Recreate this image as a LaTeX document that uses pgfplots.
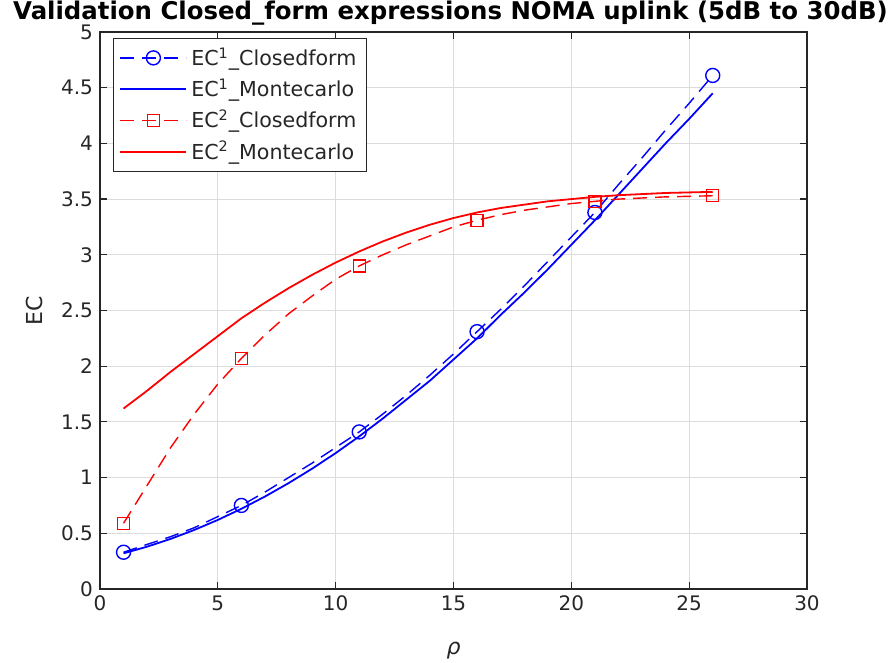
\documentclass[border=0pt]{standalone}
\usepackage{fontspec}
\setmainfont{DejaVu Sans}
\usepackage{pgfplots}
\pgfplotsset{compat=1.18}
\usetikzlibrary{calc}
\definecolor{axgray}{HTML}{262626}
\definecolor{gridgray}{HTML}{DCDCDC}

\begin{document}
\begin{tikzpicture}
\begin{axis}[
	name=plot,
	scale only axis, width=353.5pt, height=278.5pt,
	xmin=0, xmax=30, ymin=0, ymax=5,
	xtick={0,5,...,30}, ytick={0,0.5,...,5},
	grid=major,
	major grid style={gridgray, line width=0.5pt},
	axis line style={axgray, line width=0.6pt},
	tick style={axgray, line width=0.6pt},
	tick align=inside, major tick length=3.5pt,
	/pgf/number format/assume math mode=true,
	tick label style={font=\fontsize{10}{12}\selectfont, text=axgray},
	every axis title shift=0pt,
	title={\bfseries Validation Closed\_form expressions NOMA uplink (5dB to 30dB)},
	title style={at={(0.5,1)}, anchor=base, yshift=6pt, xshift=-1.5pt, font=\fontsize{12.2}{14}\selectfont},
	xlabel={\textit{ρ}},
	xlabel style={at={(axis description cs:0.5,-0.11)}, anchor=center, font=\fontsize{11}{13}\selectfont, text=axgray},
	ylabel={EC},
	ylabel style={at={(axis description cs:-0.092,0.5)}, anchor=center, font=\fontsize{11}{13}\selectfont, text=axgray},
	legend style={at={(axis description cs:0,1)}, anchor=north west, xshift=6.5pt, yshift=-3pt,
		draw=axgray, line width=0.5pt, font=\fontsize{10.3}{12}\selectfont, text=axgray,
		row sep=1.2pt, inner xsep=3pt, inner ysep=2.5pt},
	legend cell align=left,
	legend image code/.code={\draw[#1, mark repeat=2, mark phase=2] plot coordinates {(0pt,0pt) (16.5pt,0pt) (33pt,0pt)};},
]
\addplot[blue, line width=0.7pt, dash pattern=on 7pt off 4pt, mark=o, mark size=3.5pt, mark options={solid}, mark repeat=5, mark phase=1] coordinates {
	(1,0.33) (2,0.40) (3,0.47) (4,0.55) (5,0.65) (6,0.75) (7,0.87) (8,1.00) (9,1.13) (10,1.27)
	(11,1.41) (12,1.57) (13,1.74) (14,1.92) (15,2.11) (16,2.31) (17,2.51) (18,2.72) (19,2.94) (20,3.16)
	(21,3.38) (22,3.63) (23,3.87) (24,4.12) (25,4.36) (26,4.61)
};
\addlegendentry{EC\textsuperscript{1}\_Closedform}
\addplot[blue, line width=0.9pt] coordinates {
	(1,0.32) (2,0.38) (3,0.45) (4,0.53) (5,0.62) (6,0.72) (7,0.83) (8,0.95) (9,1.08) (10,1.22)
	(11,1.37) (12,1.53) (13,1.70) (14,1.87) (15,2.06) (16,2.25) (17,2.46) (18,2.66) (19,2.87) (20,3.09)
	(21,3.31) (22,3.54) (23,3.77) (24,4.00) (25,4.22) (26,4.45)
};
\addlegendentry{EC\textsuperscript{1}\_Montecarlo}
\addplot[red, line width=0.7pt, dash pattern=on 7pt off 4pt, mark=square, mark size=3pt, mark options={solid}, mark repeat=5, mark phase=1] coordinates {
	(1,0.59) (2,0.93) (3,1.27) (4,1.57) (5,1.84) (6,2.07) (7,2.28) (8,2.47) (9,2.63) (10,2.78)
	(11,2.90) (12,3.00) (13,3.09) (14,3.17) (15,3.25) (16,3.31) (17,3.36) (18,3.40) (19,3.43) (20,3.46)
	(21,3.48) (22,3.50) (23,3.51) (24,3.52) (25,3.525) (26,3.53)
};
\addlegendentry{EC\textsuperscript{2}\_Closedform}
\addplot[red, line width=0.9pt] coordinates {
	(1,1.62) (2,1.78) (3,1.95) (4,2.11) (5,2.27) (6,2.43) (7,2.57) (8,2.70) (9,2.82) (10,2.93)
	(11,3.03) (12,3.12) (13,3.20) (14,3.27) (15,3.33) (16,3.38) (17,3.42) (18,3.45) (19,3.48) (20,3.50)
	(21,3.52) (22,3.535) (23,3.545) (24,3.555) (25,3.56) (26,3.565)
};
\addlegendentry{EC\textsuperscript{2}\_Montecarlo}
\end{axis}
\pgfresetboundingbox
\path[use as bounding box] ($(plot.south west)+(-50pt,-37pt)$) rectangle ($(plot.north east)+(44.5pt,16pt)$);
\end{tikzpicture}
\end{document}
